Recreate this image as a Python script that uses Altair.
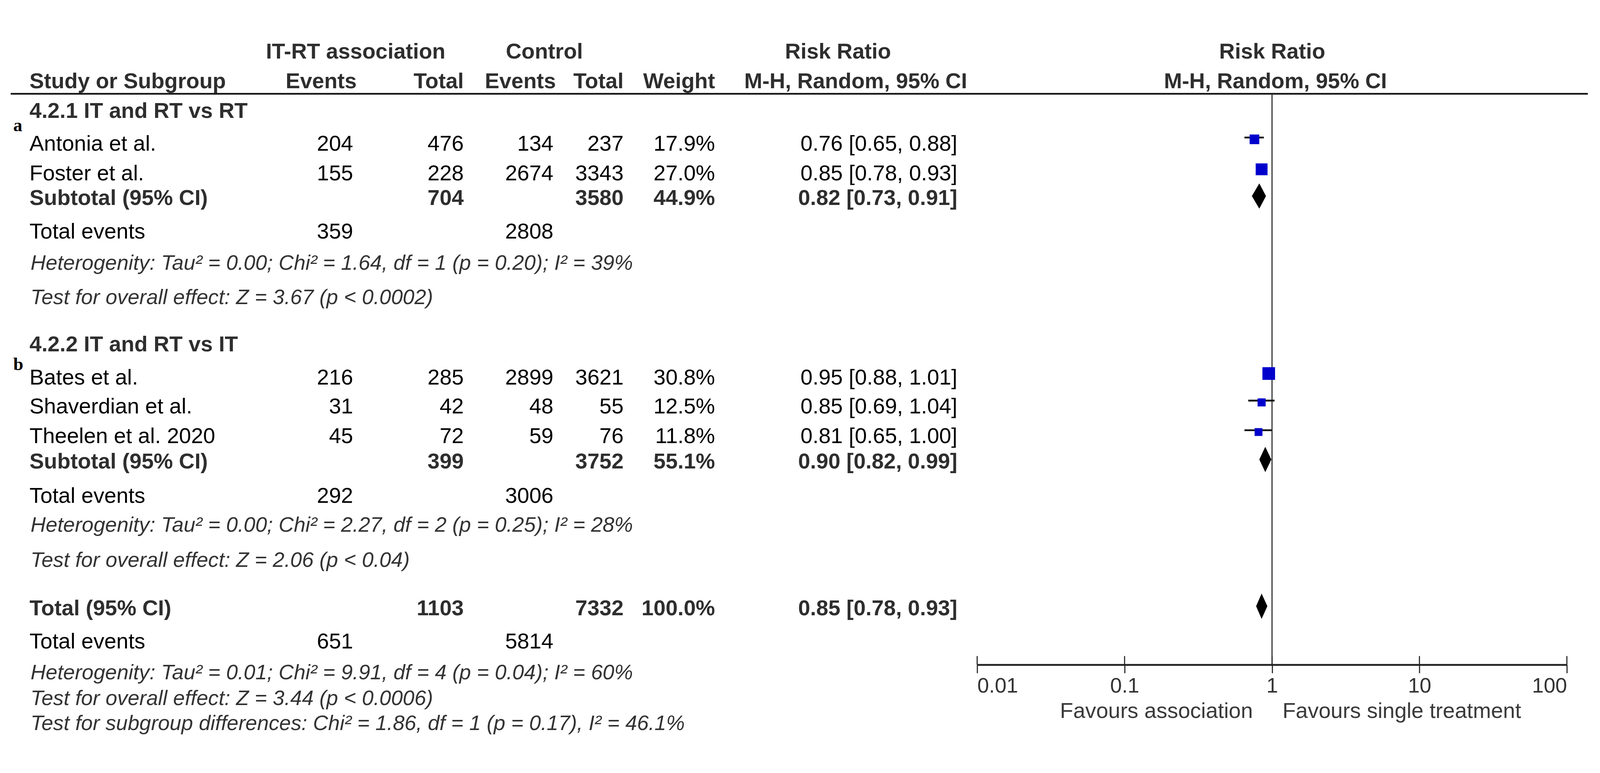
import altair as alt
import pandas as pd

# ------------------------------------------------------------------ data
studies = ["Antonia et al.", "Foster et al.", "Bates et al.",
           "Shaverdian et al.", "Theelen et al. 2020"]
events_trt = [204, 155, 216, 31, 45]
total_trt = [476, 228, 285, 42, 72]
events_ctl = [134, 2674, 2899, 48, 59]
total_ctl = [237, 3343, 3621, 55, 76]
weights = [17.9, 27.0, 30.8, 12.5, 11.8]
rr = [0.76, 0.85, 0.95, 0.85, 0.81]
rr_lo = [0.65, 0.78, 0.88, 0.69, 0.65]
rr_hi = [0.88, 0.93, 1.01, 1.04, 1.00]

pooled_labels = ["Subtotal (95% CI)", "Subtotal (95% CI)", "Total (95% CI)"]
pooled_total_trt = [704, 399, 1103]
pooled_total_ctl = [3580, 3752, 7332]
pooled_weight = [44.9, 55.1, 100.0]
pooled_rr = [0.82, 0.90, 0.85]
pooled_lo = [0.73, 0.82, 0.78]
pooled_hi = [0.91, 0.99, 0.93]

total_events_trt = [359, 292, 651]
total_events_ctl = [2808, 3006, 5814]

subgroup_titles = ["4.2.1 IT and RT vs RT", "4.2.2 IT and RT vs IT"]
panel_letters = ["a", "b"]

notes = [
    "Heterogenity: Tau² = 0.00; Chi² = 1.64, df = 1 (p = 0.20); I² = 39%",
    "Test for overall effect: Z = 3.67 (p < 0.0002)",
    "Heterogenity: Tau² = 0.00; Chi² = 2.27, df = 2 (p = 0.25); I² = 28%",
    "Test for overall effect: Z = 2.06 (p < 0.04)",
    "Heterogenity: Tau² = 0.01; Chi² = 9.91, df = 4 (p = 0.04); I² = 60%",
    "Test for overall effect: Z = 3.44 (p < 0.0006)",
    "Test for subgroup differences: Chi² = 1.86, df = 1 (p = 0.17), I² = 46.1%",
]

header_top = ["IT-RT association", "Control", "Risk Ratio", "Risk Ratio"]
header_cols = ["Study or Subgroup", "Events", "Total", "Events", "Total",
               "Weight", "M-H, Random, 95% CI", "M-H, Random, 95% CI"]
axis_ticks = [0.01, 0.1, 1, 10, 100]
favours = ["Favours association", "Favours single treatment"]

# ------------------------------------------------------------------ layout (reference pixels)
M = 8                       # page margin
W, H = 4424 - 2 * M, 1980 - 2 * M
study_base = [337, 420, 985, 1065, 1147]
pooled_base = [488, 1217, 1623]
tevents_base = [580, 1312, 1715]
notes_base = [667, 762, 1392, 1489, 1800, 1872, 1941]
title_base = [247, 893]
letter_base = [283, 945]
head_top_x = [983, 1505, 2317, 3518]
head_top_y = 83
head_col_x = [81, 986, 1282, 1537, 1724, 1977, 2366, 3527]
head_col_align = ["left", "right", "right", "right", "right", "right", "center", "center"]
head_col_y = 165
COL = dict(label=81, ev_t=976, tot_t=1282, ev_c=1530, tot_c=1724, w=1977, rr=2647)

SANS = "Liberation Sans, Arial, Helvetica, sans-serif"
SERIF = "Liberation Serif, Times New Roman, serif"
FS = 60

yscale = alt.Scale(domain=[M, 1980 - M], range=[0, H])
xscale = alt.Scale(type="log", domain=[0.01, 100], range=[2702 - M, 4333 - M], nice=False)
xaxis = alt.Axis(values=axis_ticks, format="~g", title=None, grid=False,
                 offset=-(H - (1760 - M)), domain=True, domainColor="#222",
                 domainWidth=5, ticks=True, tickSize=23, tickWidth=3, tickColor="#222",
                 labelFont=SANS, labelFontSize=58, labelColor="#333",
                 labelPadding=8, labelFlush=True)


def Y(field, **kw):
    return alt.Y(field, type="quantitative", scale=yscale, axis=None, **kw)


def X(field):
    return alt.X(field, type="quantitative", scale=xscale, axis=xaxis)


def text_layer(df, field, x, align="left", weight="normal", style="normal",
               color="#000", size=FS, font=SANS):
    return alt.Chart(df).mark_text(
        align=align, baseline="alphabetic", font=font, fontSize=size,
        fontWeight=weight, fontStyle=style, color=color
    ).encode(x=alt.value(x - M), y=Y("y"), text=alt.Text(field, type="nominal"))


layers = []

# study rows
study_df = pd.DataFrame({
    "label": studies,
    "ev_t": [str(v) for v in events_trt],
    "tot_t": [str(v) for v in total_trt],
    "ev_c": [str(v) for v in events_ctl],
    "tot_c": [str(v) for v in total_ctl],
    "w": [f"{v:.1f}%" for v in weights],
    "rrtxt": [f"{a:.2f} [{b:.2f}, {c:.2f}]" for a, b, c in zip(rr, rr_lo, rr_hi)],
    "y": study_base,
    "rr": rr, "lo": rr_lo, "hi": rr_hi, "weight": weights,
    "ysq": [b - 31 for b in study_base],
    "yci": [b - 36 for b in study_base],
})
layers.append(text_layer(study_df, "label", COL["label"]))
for f in ["ev_t", "tot_t", "ev_c", "tot_c", "w"]:
    layers.append(text_layer(study_df, f, COL[f], align="right"))
layers.append(text_layer(study_df, "rrtxt", COL["rr"], align="right"))

# pooled rows (bold)
pooled_df = pd.DataFrame({
    "label": pooled_labels,
    "tot_t": [str(v) for v in pooled_total_trt],
    "tot_c": [str(v) for v in pooled_total_ctl],
    "w": [f"{v:.1f}%" for v in pooled_weight],
    "rrtxt": [f"{a:.2f} [{b:.2f}, {c:.2f}]" for a, b, c in zip(pooled_rr, pooled_lo, pooled_hi)],
    "y": pooled_base,
})
BOLDC = "#2e2e2e"
layers.append(text_layer(pooled_df, "label", COL["label"], weight="bold", color=BOLDC))
for f in ["tot_t", "tot_c", "w"]:
    layers.append(text_layer(pooled_df, f, COL[f], align="right", weight="bold", color=BOLDC))
layers.append(text_layer(pooled_df, "rrtxt", COL["rr"], align="right", weight="bold", color=BOLDC))

# total events rows
te_df = pd.DataFrame({
    "label": ["Total events"] * 3,
    "ev_t": [str(v) for v in total_events_trt],
    "ev_c": [str(v) for v in total_events_ctl],
    "y": tevents_base,
})
layers.append(text_layer(te_df, "label", COL["label"]))
layers.append(text_layer(te_df, "ev_t", COL["ev_t"], align="right"))
layers.append(text_layer(te_df, "ev_c", COL["ev_c"], align="right"))

# italic notes
notes_df = pd.DataFrame({"t": notes, "y": notes_base})
layers.append(text_layer(notes_df, "t", 84, style="italic", color="#333", size=58))

# subgroup titles and panel letters
titles_df = pd.DataFrame({"t": subgroup_titles, "y": title_base})
layers.append(text_layer(titles_df, "t", COL["label"], weight="bold", color=BOLDC))
letters_df = pd.DataFrame({"t": panel_letters, "y": letter_base})
layers.append(text_layer(letters_df, "t", 36, weight="bold", font=SERIF, size=50))

# headers
for t, x in zip(header_top, head_top_x):
    layers.append(text_layer(pd.DataFrame({"t": [t], "y": [head_top_y]}), "t", x,
                             align="center", weight="bold", color=BOLDC))
for t, x, a in zip(header_cols, head_col_x, head_col_align):
    layers.append(text_layer(pd.DataFrame({"t": [t], "y": [head_col_y]}), "t", x,
                             align=a, weight="bold", color=BOLDC))

# header rule
layers.append(alt.Chart(pd.DataFrame({"k": [0]})).mark_rule(color="#1a1a1a", strokeWidth=5).encode(
    x=alt.value(29 - M), x2=alt.value(4391 - M), y=alt.value(180 - M)))

# line of no effect
layers.append(alt.Chart(pd.DataFrame({"k": [0]})).mark_rule(color="#2a2a2a", strokeWidth=3).encode(
    x=alt.XDatum(1, type="quantitative", scale=xscale, axis=xaxis),
    y=alt.value(180 - M), y2=alt.value(1760 - M)))

# confidence intervals
layers.append(alt.Chart(study_df).mark_rule(color="#111", strokeWidth=5).encode(
    x=X("lo"), x2="hi", y=Y("yci")))

# weighted squares
layers.append(alt.Chart(study_df).mark_square(filled=True, color="#0000cc", opacity=1).encode(
    x=X("rr"), y=Y("ysq"),
    size=alt.Size("weight", type="quantitative",
                  scale=alt.Scale(domain=[0, 30.8], range=[0, 1225]), legend=None)))

# pooled diamonds
drows = []
for i in range(len(pooled_rr)):
    c = pooled_base[i] - 25
    h = 35
    drows += [
        {"id": i, "x": pooled_lo[i], "ylo": c, "yhi": c},
        {"id": i, "x": pooled_rr[i], "ylo": c - h, "yhi": c + h},
        {"id": i, "x": pooled_hi[i], "ylo": c, "yhi": c},
    ]
diamond_df = pd.DataFrame(drows)
layers.append(alt.Chart(diamond_df).mark_area(color="#000", opacity=1, orient="vertical").encode(
    x=X("x"), y=Y("ylo", stack=None), y2="yhi", detail="id:N"))

# upper halves of axis ticks
ticks_df = pd.DataFrame({"t": axis_ticks})
layers.append(alt.Chart(ticks_df).mark_rule(color="#222", strokeWidth=3).encode(
    x=X("t"), y=alt.value(1736 - M), y2=alt.value(1760 - M)))

# favours labels
fav_df = pd.DataFrame({"t": favours, "y": [1907, 1907]})
layers.append(alt.Chart(fav_df.iloc[[0]]).mark_text(
    align="right", baseline="alphabetic", font=SANS, fontSize=FS, color="#3a3a3a", dx=-53
).encode(x=alt.XDatum(1, type="quantitative", scale=xscale, axis=xaxis), y=Y("y"), text="t:N"))
layers.append(alt.Chart(fav_df.iloc[[1]]).mark_text(
    align="left", baseline="alphabetic", font=SANS, fontSize=FS, color="#3a3a3a", dx=29
).encode(x=alt.XDatum(1, type="quantitative", scale=xscale, axis=xaxis), y=Y("y"), text="t:N"))

chart = alt.layer(*layers).properties(
    width=W, height=H, padding=0,
    autosize=alt.AutoSizeParams(type="none"),
    background="white",
).configure_view(stroke=None)

chart.save("out.html", embed_options={"renderer": "svg", "actions": False})
